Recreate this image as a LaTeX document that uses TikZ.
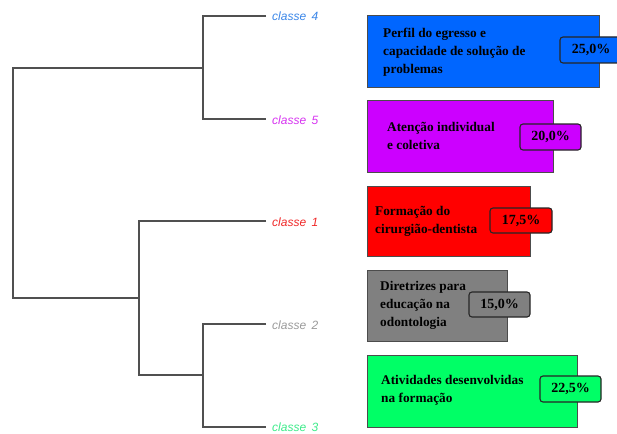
\documentclass[tikz,border=0pt]{standalone}
\usepackage{fontspec}
\setmainfont{Liberation Serif}
\setsansfont{Liberation Sans}
\definecolor{cblue}{HTML}{0066FF}
\definecolor{cpurple}{HTML}{CC00FF}
\definecolor{cred}{HTML}{FF0000}
\definecolor{cgray}{HTML}{808080}
\definecolor{cgreen}{HTML}{00FF66}
\definecolor{lblue}{HTML}{3A86E8}
\definecolor{lpurple}{HTML}{D633F0}
\definecolor{lred}{HTML}{F02828}
\definecolor{lgray}{HTML}{9A9A9A}
\definecolor{lgreen}{HTML}{3DEB8A}
\definecolor{tree}{HTML}{505050}
\begin{document}
\begin{tikzpicture}[x=1pt,y=-1pt,
  treeline/.style={draw=tree,line width=1.1pt},
  lab/.style={anchor=west,inner sep=0pt,font=\sffamily\itshape\fontsize{12}{12}\selectfont},
  catbox/.style={draw=black!70,line width=0.7pt},
  cattext/.style={anchor=west,inner sep=0pt,align=left,font=\bfseries\fontsize{13.3}{18}\selectfont},
  badge/.style={draw=black!85,line width=1.1pt,rounded corners=3pt},
  pct/.style={font=\bfseries\fontsize{14}{14}\selectfont}]
\useasboundingbox (0,0) rectangle (617,433);
% dendrogram
\coordinate (l4) at (266,16);
\coordinate (l5) at (266,119);
\coordinate (l1) at (266,221);
\coordinate (l2) at (266,324);
\coordinate (l3) at (266,427);
\coordinate (a45) at (203,68);
\coordinate (a23) at (203,375);
\coordinate (a123) at (139,298);
\coordinate (root) at (13,183);
\draw[treeline] (l4) -| (a45) |- (l5);
\draw[treeline] (l2) -| (a23) |- (l3);
\draw[treeline] (l1) -| (a123) |- (a23);
\draw[treeline] (a45) -| (root) |- (a123);
\node[lab,text=lblue] (t4) at (272,16) {classe\, 4};
\node[lab,text=lpurple] (t5) at (272,120) {classe\, 5};
\node[lab,text=lred] (t1) at (272,222) {classe\, 1};
\node[lab,text=lgray] (t2) at (272,325) {classe\, 2};
\node[lab,text=lgreen] (t3) at (272,427) {classe\, 3};
% boxes
\filldraw[catbox,fill=cblue] (367,15) rectangle (599,87);
\node[cattext] (b4) at (383,52) {Perfil do egresso e\\capacidade de solução de\\problemas};
\filldraw[badge,fill=cblue] (560,37) rectangle (622,63);
\node[pct] (p4) at (591,50) {25,0\%};
\filldraw[catbox,fill=cpurple] (367,100) rectangle (553,172);
\node[cattext] (b5) at (387,136) {Atenção individual\\e coletiva};
\filldraw[badge,fill=cpurple] (520,124) rectangle (581,150);
\node[pct] (p5) at (550.5,137) {20,0\%};
\filldraw[catbox,fill=cred] (367,186) rectangle (530,256);
\node[cattext] (b1) at (375,221) {Formação do\\cirurgião-dentista};
\filldraw[badge,fill=cred] (490,208) rectangle (552,233);
\node[pct] (p1) at (521,220.5) {17,5\%};
\filldraw[catbox,fill=cgray] (367,270) rectangle (507,341);
\node[cattext] (b2) at (380,305) {Diretrizes para\\educação na\\odontologia};
\filldraw[badge,fill=cgray] (469,292) rectangle (530,317);
\node[pct] (p2) at (499.5,304.5) {15,0\%};
\filldraw[catbox,fill=cgreen] (367,355) rectangle (577,427);
\node[cattext] (b3) at (381,390) {Atividades desenvolvidas\\na formação};
\filldraw[badge,fill=cgreen] (540,376) rectangle (601,402);
\node[pct] (p3) at (570.5,389) {22,5\%};
\end{tikzpicture}
\end{document}
